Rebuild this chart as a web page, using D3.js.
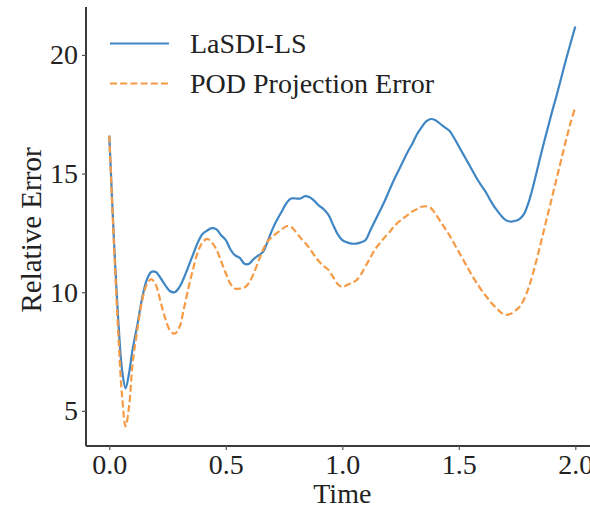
<!DOCTYPE html>
<html>
<head>
<meta charset="utf-8">
<script src="https://cdn.jsdelivr.net/npm/d3@7"></script>
<style>
  html, body { margin: 0; padding: 0; background: #fff; }
  svg { display: block; }
  text { font-family: "Liberation Serif", "DejaVu Serif", serif; fill: #222; }
</style>
</head>
<body>
<script>
// Time samples shared by both series
const time = [
  0.00, 0.02, 0.04, 0.055, 0.07, 0.085, 0.10, 0.12, 0.14, 0.16, 0.18, 0.20,
  0.22, 0.24, 0.26, 0.28, 0.30, 0.32, 0.34, 0.36, 0.38, 0.40, 0.42, 0.44,
  0.46, 0.48, 0.50, 0.52, 0.54, 0.56, 0.58, 0.60, 0.62, 0.64, 0.66, 0.68,
  0.70, 0.72, 0.74, 0.76, 0.78, 0.80, 0.82, 0.84, 0.86, 0.88, 0.90, 0.92,
  0.94, 0.96, 0.98, 1.00, 1.02, 1.04, 1.06, 1.08, 1.10, 1.12, 1.14, 1.16,
  1.18, 1.20, 1.22, 1.24, 1.26, 1.28, 1.30, 1.32, 1.34, 1.36, 1.38, 1.40,
  1.42, 1.44, 1.46, 1.48, 1.50, 1.52, 1.54, 1.56, 1.58, 1.60, 1.62, 1.64,
  1.66, 1.68, 1.70, 1.72, 1.74, 1.76, 1.78, 1.80, 1.82, 1.84, 1.86, 1.88,
  1.90, 1.92, 1.94, 1.96, 1.98, 2.00
];

// LaSDI-LS relative error
const lasdiLS = [
  16.6, 12.2, 8.6, 6.7, 5.95, 6.6, 7.6, 8.6, 9.7, 10.5, 10.85, 10.85,
  10.6, 10.3, 10.05, 10.0, 10.2, 10.6, 11.1, 11.6, 12.1, 12.45, 12.6, 12.7,
  12.65, 12.4, 12.2, 11.8, 11.55, 11.45, 11.2, 11.2, 11.4, 11.55, 11.7, 12.15,
  12.65, 13.05, 13.4, 13.75, 13.95, 13.95, 13.95, 14.05, 14.0, 13.85, 13.65, 13.5,
  13.27, 12.85, 12.45, 12.2, 12.1, 12.05, 12.05, 12.1, 12.2, 12.6, 13.0, 13.4,
  13.8, 14.25, 14.7, 15.1, 15.5, 15.9, 16.25, 16.65, 16.95, 17.2, 17.3, 17.25,
  17.1, 16.95, 16.8, 16.5, 16.15, 15.8, 15.45, 15.1, 14.75, 14.45, 14.15, 13.8,
  13.5, 13.25, 13.05, 12.98, 13.0, 13.08, 13.3, 13.8, 14.5, 15.3, 16.1, 16.85,
  17.6, 18.3, 19.05, 19.8, 20.5, 21.2
];

// POD projection error
const podError = [
  16.6, 12.0, 8.0, 5.6, 4.35, 5.2, 7.0, 8.4, 9.6, 10.3, 10.55, 10.3,
  9.6, 8.9, 8.4, 8.25, 8.5, 9.3, 10.2, 11.0, 11.7, 12.1, 12.25, 12.1,
  11.8, 11.3, 10.8, 10.35, 10.15, 10.15, 10.2, 10.4, 10.8, 11.3, 11.8, 12.15,
  12.35, 12.5, 12.65, 12.78, 12.75, 12.55, 12.3, 12.08, 11.85, 11.55, 11.3, 11.1,
  10.95, 10.65, 10.35, 10.22, 10.3, 10.4, 10.5, 10.75, 11.1, 11.45, 11.8, 12.05,
  12.3, 12.5, 12.75, 12.95, 13.1, 13.25, 13.4, 13.5, 13.6, 13.62, 13.55, 13.3,
  13.0, 12.7, 12.4, 12.05, 11.7, 11.35, 11.0, 10.65, 10.35, 10.05, 9.8, 9.55,
  9.35, 9.15, 9.05, 9.08, 9.2, 9.38, 9.7, 10.2, 10.85, 11.6, 12.4, 13.2,
  14.0, 14.8, 15.6, 16.4, 17.15, 17.8
];

const xTicks = [0.0, 0.5, 1.0, 1.5, 2.0];
const yTicks = [5, 10, 15, 20];
const seriesNames = ["LaSDI-LS", "POD Projection Error"];

const W = 590, H = 510;
const svg = d3.select("body").append("svg").attr("width", W).attr("height", H);

const x = d3.scaleLinear().domain([-0.1, 2.1]).range([86, 598.6]);
const y = d3.scaleLinear().domain([3.52, 22.02]).range([446, 7]);

const colors = ["#3f86c4", "#f59a45"];
const dashes = [null, "7,3.2"];

// Series lines
const line = d3.line()
  .x(d => x(d[0]))
  .y(d => y(d[1]))
  .curve(d3.curveCatmullRom.alpha(0.5));

[lasdiLS, podError].forEach((vals, i) => {
  svg.append("path")
    .datum(time.map((t, k) => [t, vals[k]]))
    .attr("d", line)
    .attr("fill", "none")
    .attr("stroke", colors[i])
    .attr("stroke-width", 2.2)
    .attr("stroke-dasharray", dashes[i]);
});

// Axes: left and bottom spines only
const fontSize = 28;
const xAxis = d3.axisBottom(x).tickValues(xTicks).tickFormat(d3.format(".1f"))
  .tickSizeInner(4).tickSizeOuter(0).tickPadding(4);
const yAxis = d3.axisLeft(y).tickValues(yTicks).tickFormat(d3.format("d"))
  .tickSizeInner(4).tickSizeOuter(0).tickPadding(4);

const gx = svg.append("g").attr("transform", "translate(0,446)").call(xAxis);
const gy = svg.append("g").attr("transform", "translate(86,0)").call(yAxis);

[gx, gy].forEach(g => {
  g.select(".domain").attr("stroke", "#3a3a3a").attr("stroke-width", 2);
  g.selectAll(".tick line").attr("stroke", "#555").attr("stroke-width", 1.2);
  g.selectAll(".tick text")
    .attr("font-family", "'Liberation Serif', serif")
    .attr("font-size", fontSize)
    .attr("fill", "#222");
});
gy.select(".domain").attr("d", "M0,446V7");
gx.select(".domain").attr("d", "M86,0H598.6");

// Axis titles
svg.append("text")
  .attr("x", x(1.0)).attr("y", 503)
  .attr("text-anchor", "middle")
  .attr("font-size", fontSize)
  .text("Time");

svg.append("text")
  .attr("transform", "translate(41,230) rotate(-90)")
  .attr("text-anchor", "middle")
  .attr("font-size", 29)
  .text("Relative Error");

// Legend
const legend = svg.append("g");
seriesNames.forEach((name, i) => {
  const yy = 43.5 + i * 40;
  legend.append("line")
    .attr("x1", 110).attr("x2", 169)
    .attr("y1", yy).attr("y2", yy)
    .attr("stroke", colors[i])
    .attr("stroke-width", 2.2)
    .attr("stroke-dasharray", dashes[i]);
  legend.append("text")
    .attr("x", 190).attr("y", yy + 9.5)
    .attr("font-size", fontSize)
    .text(name);
});
</script>
</body>
</html>
